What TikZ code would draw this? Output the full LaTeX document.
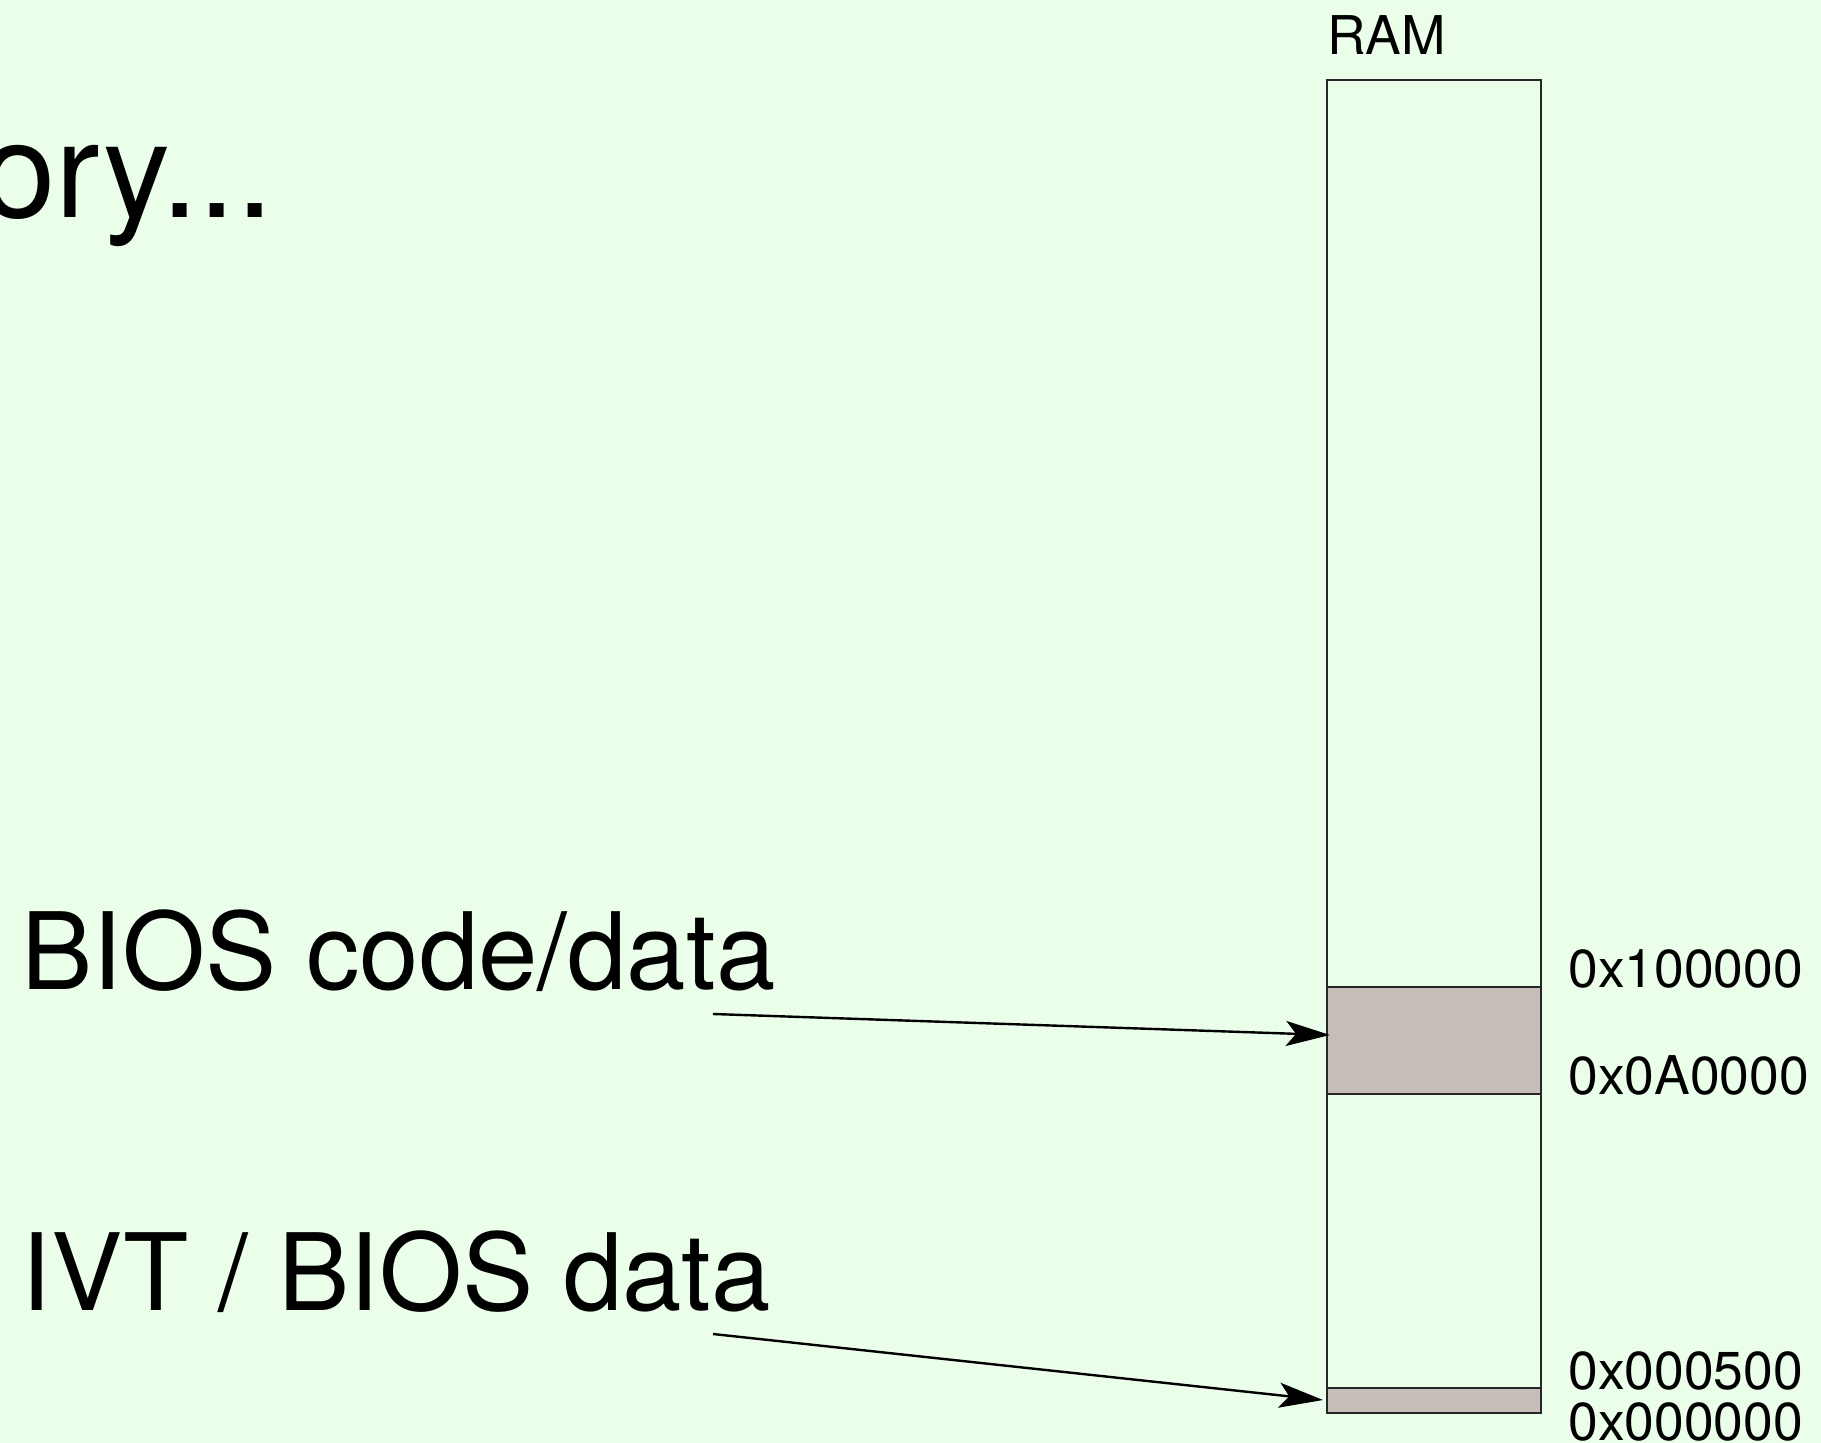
\documentclass[tikz,border=0pt]{standalone}
\usepackage{fontspec}
\setmainfont{TeX Gyre Heros}
\usetikzlibrary{arrows.meta}
\definecolor{slidebg}{RGB}{234,254,234}
\definecolor{regionfill}{RGB}{199,190,185}
\begin{document}
\begin{tikzpicture}[x=0.5pt,y=-0.5pt,
  addr/.style={inner sep=0pt, anchor=base west, font=\fontsize{26.7}{30}\selectfont},
  big/.style={inner sep=0pt, anchor=base west, font=\fontsize{53.4}{60}\selectfont},
  headline/.style={inner sep=0pt, anchor=base west, font=\fontsize{67}{75}\selectfont},
  pointer/.style={-{Stealth[length=22pt,width=12.5pt,inset=5pt]}, line width=1.2pt},
  cell/.style={draw=black!85, line width=1pt}]
  % page background
  \fill[slidebg] (0,0) rectangle (1821,1443);
  \useasboundingbox (0,0) rectangle (1821,1443);

  % heading, running off the left edge
  \node[headline] (head) at (-19,218) {ory...};

  % memory column
  \draw[cell] (1327,80) rectangle (1541,1413);
  \filldraw[cell, fill=regionfill] (1327,987) rectangle (1541,1094);
  \filldraw[cell, fill=regionfill] (1327,1388) rectangle (1541,1413);
  \node[addr] (ram) at (1327,55) {RAM};

  % address marks
  \node[addr] (a1) at (1568,987) {0x100000};
  \node[addr] (a2) at (1568,1094) {0x0A0000};
  \node[addr] (a3) at (1568,1389) {0x000500};
  \node[addr] (a4) at (1568,1440) {0x000000};

  % region labels
  \node[big] (bios) at (21,989) {BIOS code/data};
  \node[big] (ivt) at (21,1310) {IVT / BIOS data};

  % pointers into the column
  \coordinate (biosfrom) at (713,1014);
  \coordinate (biosto) at (1330,1035);
  \coordinate (ivtfrom) at (713,1334);
  \coordinate (ivtto) at (1323,1400);
  \draw[pointer] (biosfrom) -- (biosto);
  \draw[pointer] (ivtfrom) -- (ivtto);
\end{tikzpicture}
\end{document}
